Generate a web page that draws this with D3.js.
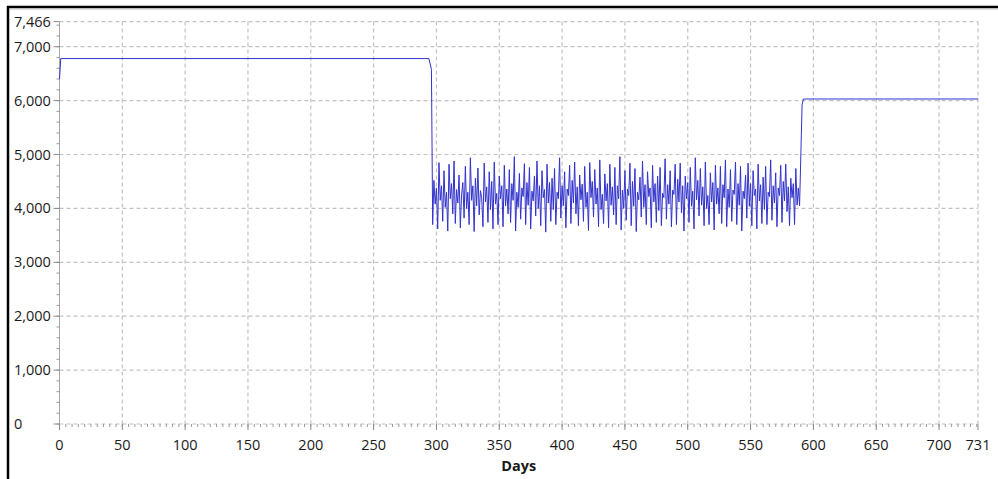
<!DOCTYPE html>
<html>
<head>
<meta charset="utf-8">
<script src="https://cdn.jsdelivr.net/npm/d3@7"></script>
<style>
  html, body { margin: 0; padding: 0; background: #fff; }
  svg { display: block; }
  text { font-family: "Open Sans", "Noto Sans", sans-serif; fill: #1a1a1a; }
</style>
</head>
<body>
<svg id="chart" width="998" height="479"></svg>
<script>
// Level before the drop (day, value)
const openingDays = [0, 1, 294, 296];
const openingValues = [6400, 6780, 6780, 6580];

// Daily values during the fluctuating period, starting at day 297
const cycleStartDay = 297;
const cycleValues = [
  3700, 4520, 4080, 4380, 3620, 4850, 4150,
  4420, 3760, 4700, 4020, 4300, 3580, 4820,
  4180, 4460, 3900, 4880, 3720, 4350, 4100,
  4620, 3640, 4250, 4480, 3820, 4780, 4000,
  4300, 3700, 4940, 4150, 4420, 3570, 4560,
  4050, 4750, 3880, 4330, 4200, 3660, 4840,
  4120, 4400, 3740, 4680, 3980, 4500, 3620,
  4860, 4080, 4280, 3700, 4600, 4180, 4420,
  3660, 4800, 4050, 4360, 3900, 4720, 3740,
  4460, 4150, 4960, 3580, 4300, 4020, 4650,
  3800, 4380, 4220, 4830, 3700, 4480, 4060,
  4760, 3620, 4320, 4140, 4600, 3860, 4880,
  4000, 4420, 3680, 4700, 4200, 4350, 3560,
  4820, 4100, 4480, 3760, 4560, 3980, 4740,
  3700, 4300, 4180, 4940, 3820, 4420, 4050,
  4680, 3640, 4360, 4240, 4800, 3720, 4520,
  4100, 4860, 3900, 4400, 3680, 4620, 4160,
  4450, 3760, 4780, 4020, 4300, 3590, 4850,
  4200, 4500, 3840, 4720, 4080, 4380, 3660,
  4900, 3980, 4260, 3720, 4640, 4140, 4460,
  3640, 4820, 4060, 4400, 3880, 4760, 3700,
  4420, 4180, 4960, 3600, 4340, 4000, 4700,
  3780, 4360, 4240, 4840, 3680, 4500, 4040,
  4740, 3570, 4300, 4160, 4580, 3840, 4880,
  4020, 4440, 3700, 4680, 4220, 4380, 3640,
  4800, 4120, 4460, 3740, 4600, 3960, 4760,
  3680, 4280, 4200, 4920, 3800, 4440, 4080,
  4700, 3660, 4340, 4260, 4820, 3700, 4540,
  4120, 4840, 3920, 4420, 3580, 4600, 4180,
  4480, 3740, 4760, 4040, 4320, 3620, 4940,
  4160, 4520, 3860, 4740, 4060, 4400, 3680,
  4860, 4000, 4240, 3700, 4660, 4120, 4480,
  3600, 4800, 4080, 4380, 3900, 4780, 3720,
  4440, 4200, 4900, 3660, 4360, 4020, 4720,
  3760, 4340, 4260, 4860, 3700, 4460, 4060,
  4780, 3580, 4320, 4180, 4620, 3820, 4840,
  4040, 4460, 3680, 4700, 4240, 4360, 3620,
  4820, 4140, 4440, 3720, 4580, 3980, 4780,
  3700, 4300, 4220, 4900, 3780, 4420, 4100,
  4660, 3660, 4380, 4240, 4800, 3740, 4500,
  4140, 4820, 3940, 4400, 3680, 4560, 4200,
  4460, 3700, 4740, 4060, 4380, 4050
];

// Level after the recovery (day, value)
const closingDays = [591, 592, 731];
const closingValues = [5920, 6030, 6030];

// Axis ticks
const xTicks = [0, 50, 100, 150, 200, 250, 300, 350, 400, 450, 500, 550, 600, 650, 700, 731];
const yTicks = [0, 1000, 2000, 3000, 4000, 5000, 6000, 7000, 7466];
const xLabel = "Days";

const points = [];
openingDays.forEach((d, i) => points.push([d, openingValues[i]]));
cycleValues.forEach((v, i) => points.push([cycleStartDay + i, v]));
closingDays.forEach((d, i) => points.push([d, closingValues[i]]));

const svg = d3.select("#chart");
const plotLeft = 59.5, plotRight = 978, plotTop = 21.6, plotBottom = 424;

const x = d3.scaleLinear().domain([0, 731]).range([plotLeft, plotRight]);
const y = d3.scaleLinear().domain([0, 7466]).range([plotBottom, plotTop]);

// Outer frame (left and top edges)
svg.append("line").attr("x1", 8).attr("x2", 8).attr("y1", 6).attr("y2", 479)
  .attr("stroke", "#000").attr("stroke-width", 2.5);
svg.append("line").attr("x1", 7).attr("x2", 998).attr("y1", 7).attr("y2", 7)
  .attr("stroke", "#000").attr("stroke-width", 2.5);
svg.append("line").attr("x1", 10).attr("x2", 998).attr("y1", 9).attr("y2", 9)
  .attr("stroke", "#bbb").attr("stroke-width", 1);

// Dashed grid
const grid = svg.append("g").attr("stroke", "#c2c2c2").attr("stroke-width", 1.2)
  .attr("stroke-dasharray", "4,3").attr("fill", "none");
xTicks.filter(t => t > 0).forEach(t => {
  grid.append("line").attr("x1", x(t)).attr("x2", x(t)).attr("y1", y(7466)).attr("y2", y(0));
});
yTicks.forEach(t => {
  grid.append("line").attr("x1", x(0)).attr("x2", x(731)).attr("y1", y(t)).attr("y2", y(t));
});

// Y axis: line, minor ticks every 200, labels left aligned
const yAxis = svg.append("g");
yAxis.append("line").attr("x1", x(0)).attr("x2", x(0)).attr("y1", y(7466)).attr("y2", y(0))
  .attr("stroke", "#a8a8a8").attr("stroke-width", 1);
d3.range(0, 7466, 200).forEach(t => {
  yAxis.append("line").attr("x1", x(0) - 3).attr("x2", x(0)).attr("y1", y(t)).attr("y2", y(t))
    .attr("stroke", "#9a9a9a").attr("stroke-width", 1);
});
yTicks.forEach(t => {
  yAxis.append("line").attr("x1", x(0) - 6).attr("x2", x(0)).attr("y1", y(t)).attr("y2", y(t))
    .attr("stroke", "#8a8a8a").attr("stroke-width", 1);
  yAxis.append("text").attr("x", 14).attr("y", y(t) + 5)
    .attr("font-size", 14.5).attr("text-anchor", "start")
    .text(d3.format(",")(t));
});

// X axis: minor ticks every 5 days, major ticks and labels
const xAxis = svg.append("g");
d3.range(0, 732, 5).forEach(t => {
  xAxis.append("line").attr("x1", x(t)).attr("x2", x(t)).attr("y1", y(0)).attr("y2", y(0) + 3)
    .attr("stroke", "#9a9a9a").attr("stroke-width", 1);
});
xTicks.forEach(t => {
  xAxis.append("line").attr("x1", x(t)).attr("x2", x(t)).attr("y1", y(0)).attr("y2", y(0) + 6)
    .attr("stroke", "#8a8a8a").attr("stroke-width", 1);
  xAxis.append("text").attr("x", x(t)).attr("y", y(0) + 26)
    .attr("font-size", 14.5).attr("text-anchor", "middle")
    .text(t);
});
svg.append("text").attr("x", (plotLeft + plotRight) / 2).attr("y", 471)
  .attr("font-size", 14.5).attr("font-weight", "bold").attr("text-anchor", "middle")
  .text(xLabel);

// Series line
const line = d3.line().x(d => x(d[0])).y(d => y(d[1]));
svg.append("path").datum(points)
  .attr("d", line)
  .attr("fill", "none")
  .attr("stroke", "#3232cc")
  .attr("stroke-width", 1);
</script>
</body>
</html>
